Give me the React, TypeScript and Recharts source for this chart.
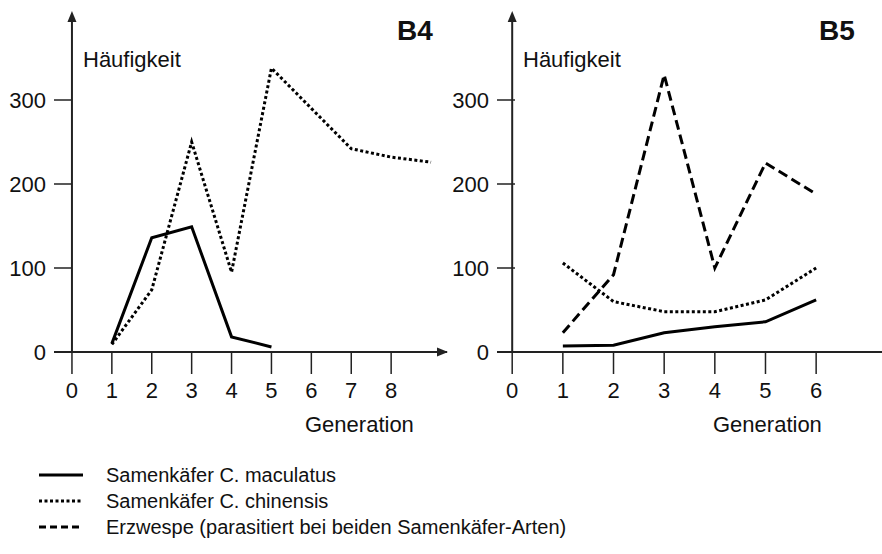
import { LineChart, Line, XAxis, YAxis, ReferenceLine, ReferenceDot } from "recharts";

// B4: beide Samenkäfer-Arten ohne Erzwespe
const b4Generations = [1, 2, 3, 4, 5, 6, 7, 8, 9];
const b4Maculatus = [10, 136, 149, 18, 6, null, null, null, null];
const b4Chinensis = [9, 74, 250, 95, 338, 290, 242, 232, 226];
const b4Ticks = [0, 1, 2, 3, 4, 5, 6, 7, 8];

// B5: mit Erzwespe
const b5Generations = [1, 2, 3, 4, 5, 6];
const b5Maculatus = [7, 8, 23, 30, 36, 62];
const b5Chinensis = [106, 60, 48, 48, 62, 100];
const b5Erzwespe = [23, 92, 330, 100, 225, 188];
const b5Ticks = [0, 1, 2, 3, 4, 5, 6];

const yTicks = [0, 100, 200, 300];

const legendItems = [
  { label: "Samenkäfer C. maculatus", dash: undefined },
  { label: "Samenkäfer C. chinensis", dash: "3 2.5" },
  { label: "Erzwespe (parasitiert bei beiden Samenkäfer-Arten)", dash: "7 4" },
];

const b4Data = b4Generations.map((g, i) => ({
  g,
  maculatus: b4Maculatus[i],
  chinensis: b4Chinensis[i],
}));

const b5Data = b5Generations.map((g, i) => ({
  g,
  maculatus: b5Maculatus[i],
  chinensis: b5Chinensis[i],
  erzwespe: b5Erzwespe[i],
}));

const FONT = "'Liberation Sans', Arial, sans-serif";
const AXIS = "#222";

const YTick = (props: any) => {
  const { x, y, payload } = props;
  return (
    <g>
      <line x1={x} x2={x + 18} y1={y} y2={y} stroke={AXIS} strokeWidth={1.5} />
      <text x={x - 8} y={y} textAnchor="end" dominantBaseline="central" fontSize={22} fill="#111" fontFamily={FONT}>
        {payload.value}
      </text>
    </g>
  );
};

const RightArrow = (props: any) => {
  const { cx, cy } = props;
  return <polygon points={`${cx + 1},${cy} ${cx - 10},${cy - 4.5} ${cx - 10},${cy + 4.5}`} fill={AXIS} />;
};

const UpArrow = (props: any) => {
  const { cx, cy } = props;
  return <polygon points={`${cx},${cy - 5} ${cx - 4.5},${cy + 6} ${cx + 4.5},${cy + 6}`} fill={AXIS} />;
};

const txt = (left: number, top: number, size: number, bold = false): React.CSSProperties => ({
  position: "absolute",
  left,
  top,
  fontSize: size,
  fontWeight: bold ? 700 : 400,
  fontFamily: FONT,
  color: "#111",
  whiteSpace: "nowrap",
  lineHeight: 1,
});

export default function App() {
  return (
    <div style={{ position: "absolute", left: 0, top: 0, width: 882, height: 554, background: "#fff", overflow: "hidden" }}>
      <LineChart width={450} height={440} data={b4Data} margin={{ top: 16, right: 3, bottom: 0, left: 0 }} style={{ position: "absolute", left: 0, top: 0 }}>
        <XAxis
          dataKey="g"
          type="number"
          domain={[-0.45, 9.4]}
          ticks={b4Ticks}
          height={88}
          tickSize={22}
          tickMargin={8}
          axisLine={{ stroke: AXIS, strokeWidth: 2 }}
          tickLine={{ stroke: AXIS, strokeWidth: 1.5 }}
          tick={{ fill: "#111", fontSize: 22, fontFamily: FONT }}
          interval={0}
        />
        <YAxis width={54} domain={[0, 400]} ticks={yTicks} axisLine={false} tickLine={false} tickSize={0} tickMargin={0} tick={<YTick />} />
        <ReferenceLine x={0} stroke={AXIS} strokeWidth={2} />
        <ReferenceDot x={9.4} y={0} ifOverflow="visible" shape={<RightArrow />} />
        <ReferenceDot x={0} y={400} ifOverflow="visible" shape={<UpArrow />} />
        <Line dataKey="maculatus" stroke="#000" strokeWidth={3} dot={false} isAnimationActive={false} connectNulls={false} />
        <Line dataKey="chinensis" stroke="#000" strokeWidth={3} strokeDasharray="3 2.5" dot={false} isAnimationActive={false} />
      </LineChart>

      <LineChart width={442} height={440} data={b5Data} margin={{ top: 16, right: 0, bottom: 0, left: 0 }} style={{ position: "absolute", left: 440, top: 0 }}>
        <XAxis
          dataKey="g"
          type="number"
          domain={[-0.3, 7.3]}
          ticks={b5Ticks}
          height={88}
          tickSize={22}
          tickMargin={8}
          axisLine={{ stroke: AXIS, strokeWidth: 2 }}
          tickLine={{ stroke: AXIS, strokeWidth: 1.5 }}
          tick={{ fill: "#111", fontSize: 22, fontFamily: FONT }}
          interval={0}
        />
        <YAxis width={57} domain={[0, 400]} ticks={yTicks} axisLine={false} tickLine={false} tickSize={0} tickMargin={0} tick={<YTick />} />
        <ReferenceLine x={0} stroke={AXIS} strokeWidth={2} />
        <ReferenceDot x={0} y={400} ifOverflow="visible" shape={<UpArrow />} />
        <Line dataKey="erzwespe" stroke="#000" strokeWidth={3} strokeDasharray="10 5" dot={false} isAnimationActive={false} />
        <Line dataKey="chinensis" stroke="#000" strokeWidth={3} strokeDasharray="3 2.5" dot={false} isAnimationActive={false} />
        <Line dataKey="maculatus" stroke="#000" strokeWidth={3} dot={false} isAnimationActive={false} />
      </LineChart>

      <div style={txt(83, 49, 22)}>Häufigkeit</div>
      <div style={txt(305, 414, 22)}>Generation</div>
      <div style={txt(397, 17, 28, true)}>B4</div>

      <div style={txt(523, 49, 22)}>Häufigkeit</div>
      <div style={txt(713, 414, 22)}>Generation</div>
      <div style={txt(819, 17, 28, true)}>B5</div>

      <div style={{ position: "absolute", left: 39, top: 462 }}>
        {legendItems.map((it) => (
          <div key={it.label} style={{ display: "flex", alignItems: "center", height: 26 }}>
            <svg width={44} height={10} style={{ marginRight: 23 }}>
              <line x1={0} x2={44} y1={5} y2={5} stroke="#000" strokeWidth={3} strokeDasharray={it.dash} />
            </svg>
            <span style={{ fontFamily: FONT, fontSize: 20, color: "#111", lineHeight: 1 }}>{it.label}</span>
          </div>
        ))}
      </div>
    </div>
  );
}
